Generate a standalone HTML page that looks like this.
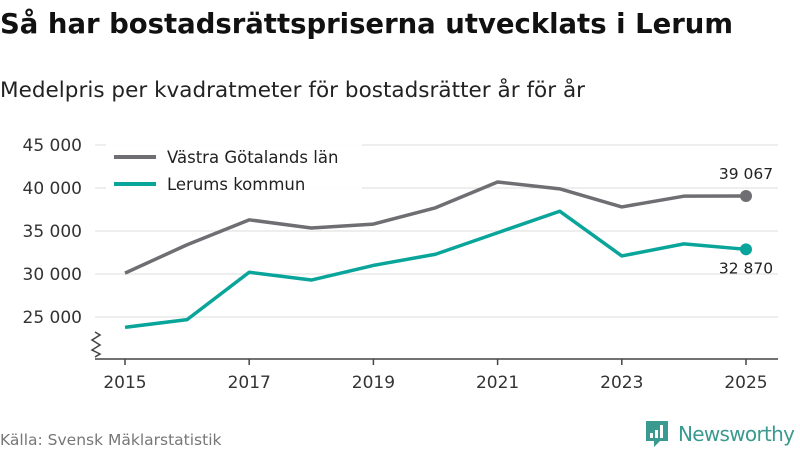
<!DOCTYPE html>
<html><head><meta charset="utf-8"><style>
body{margin:0;background:#fff;font-family:"Liberation Sans","DejaVu Sans",sans-serif;}
#wrap{position:relative;width:800px;height:450px;overflow:hidden;}
</style></head><body>
<div id="wrap">
<svg id="chart" width="800" height="450" xmlns="http://www.w3.org/2000/svg">
<text x="0" y="33" font-size="27.5" font-weight="bold" fill="#111" textLength="733" font-family="DejaVu Sans, sans-serif">Så har bostadsrättspriserna utvecklats i Lerum</text>
<text x="0" y="97" font-size="21.5" fill="#222" textLength="585" font-family="DejaVu Sans, sans-serif">Medelpris per kvadratmeter för bostadsrätter år för år</text>
<g id="grid"></g>
<g id="xaxis"></g>
<g id="series"></g>
<rect x="106" y="141" width="256" height="62" fill="#fff" opacity="0.9"/>
<line x1="114" y1="157" x2="156" y2="157" stroke="#6f6e73" stroke-width="4"/>
<text x="167" y="163" font-size="16.5" fill="#222" font-family="DejaVu Sans, sans-serif">Västra Götalands län</text>
<line x1="114" y1="184" x2="156" y2="184" stroke="#0aa59a" stroke-width="4"/>
<text x="167" y="190" font-size="16.5" fill="#222" font-family="DejaVu Sans, sans-serif">Lerums kommun</text>
<text x="0" y="445" font-size="15.5" fill="#777" font-family="DejaVu Sans, sans-serif">Källa: Svensk Mäklarstatistik</text>
<g>
<path d="M646 421 h22 v20 h-8 l-6 6 v-6 h-8 z" fill="#3a9a90"/>
<rect x="650" y="433" width="3" height="5" fill="#fff"/><rect x="655" y="430" width="3" height="8" fill="#fff"/><rect x="660" y="425" width="3" height="13" fill="#fff"/>
<text x="678" y="441" font-size="20" fill="#3a9a90" textLength="117" font-family="DejaVu Sans, sans-serif">Newsworthy</text>
</g>
</svg>
</div>
<script>
const years=[2015,2016,2017,2018,2019,2020,2021,2022,2023,2024,2025];
const vastra=[30100,33400,36300,35350,35800,37700,40700,39900,37800,39050,39067];
const lerum=[23800,24700,30200,29300,31000,32300,34800,37300,32100,33500,32870];
const yTicks=[25000,30000,35000,40000,45000];
const xTicks=[2015,2017,2019,2021,2023,2025];
const NS="http://www.w3.org/2000/svg";
const x=v=>125+(v-2015)*62.1;
const y=v=>145+(45000-v)*43/5000;
const fmt=v=>String(v).replace(/\B(?=(\d{3})+(?!\d))/g," ");
function mk(tag,attrs,parent){const e=document.createElementNS(NS,tag);for(const k in attrs)e.setAttribute(k,attrs[k]);parent.appendChild(e);return e;}
const grid=document.getElementById('grid'),xa=document.getElementById('xaxis'),ser=document.getElementById('series');
yTicks.forEach(t=>{
 const l=mk('line',{x1:95,x2:778,y1:y(t),y2:y(t),stroke:'#dcdcdc','stroke-width':1},grid);
 
 
 const tx=mk('text',{x:82,y:y(t)+6,'text-anchor':'end','font-size':17,fill:'#333','font-family':'DejaVu Sans, sans-serif'},grid);
 tx.textContent=fmt(t);
 
 
});
const base=mk('line',{x1:95,x2:778,y1:359,y2:359,stroke:'#444','stroke-width':1.5},xa);


const zz=mk('polyline',{points:'95,332 100,335 92,340 100,345 92,350 100,354 95,357',fill:'none',stroke:'#444','stroke-width':1.5},xa);


xTicks.forEach(t=>{
 const l=mk('line',{x1:x(t),x2:x(t),y1:359,y2:365,stroke:'#444','stroke-width':1.5},xa);
 
 
 const tx=mk('text',{x:x(t),y:388,'text-anchor':'middle','font-size':17,fill:'#333','font-family':'DejaVu Sans, sans-serif'},xa);
 tx.textContent=t;
 
 
});
function drawSeries(vals,color,name,labelDy){
 const p=mk('polyline',{points:vals.map((v,i)=>x(years[i])+','+y(v)).join(' '),fill:'none',stroke:color,'stroke-width':3.5,'stroke-linejoin':'round'},ser);
 
 
 const n=vals.length-1;
 const c=mk('circle',{cx:x(years[n]),cy:y(vals[n]),r:6,fill:color},ser);
 
 
 const t=mk('text',{x:x(years[n]),y:y(vals[n])+labelDy,'text-anchor':'middle','font-size':15.5,fill:'#222','font-family':'DejaVu Sans, sans-serif'},ser);
 t.textContent=fmt(vals[n]);
 
 
}
drawSeries(vastra,'#6f6e73','vastra-gotaland',-17);
drawSeries(lerum,'#0aa59a','lerum',24);
</script>
</body></html>
